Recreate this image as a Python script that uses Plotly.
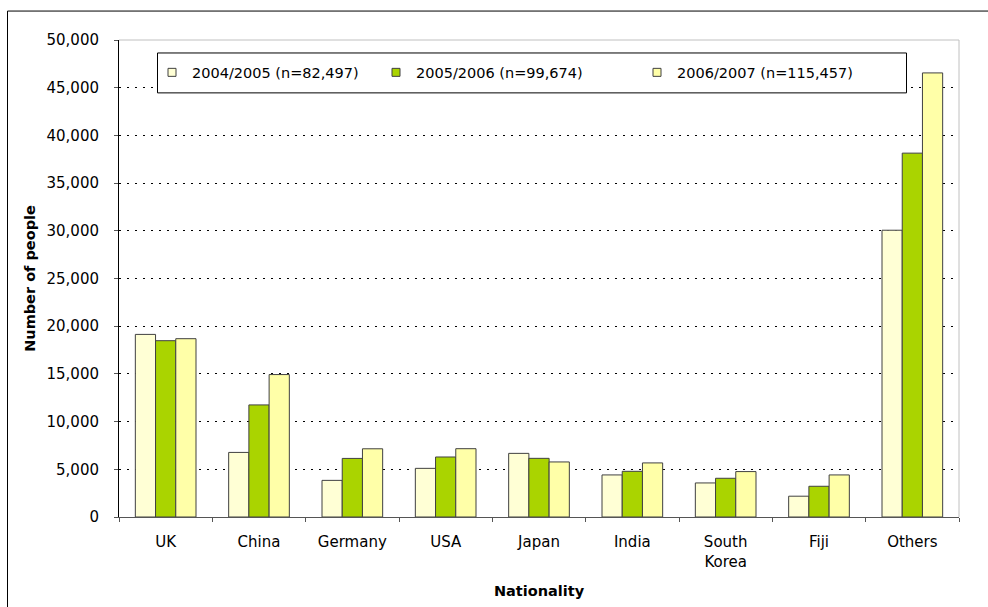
import plotly.graph_objects as go

# Nationality categories and visitor counts per season
categories = ["UK", "China", "Germany", "USA", "Japan", "India", "South<br>Korea", "Fiji", "Others"]
season_names = ["2004/2005 (n=82,497)", "2005/2006 (n=99,674)", "2006/2007 (n=115,457)"]
values_2004 = [19140, 6770, 3840, 5100, 6670, 4410, 3570, 2180, 30060]
values_2005 = [18480, 11750, 6140, 6290, 6150, 4790, 4060, 3220, 38140]
values_2006 = [18690, 14930, 7150, 7160, 5770, 5670, 4760, 4410, 46550]
y_ticks = [0, 5000, 10000, 15000, 20000, 25000, 30000, 35000, 40000, 45000, 50000]

colors = ["#FFFFD5", "#AAD400", "#FFFFA8"]
outline = "#404040"
FONT = "DejaVu Sans"

W, H = 988, 607
L, R, T, B = 119, 959, 39.5, 517.5


def px(x):
    return (x - L) / (R - L)


def py(y):
    return (B - y) / (B - T)


fig = go.Figure()
series = [values_2004, values_2005, values_2006]
for name, vals, col in zip(season_names, series, colors):
    fig.add_trace(go.Bar(
        x=categories, y=vals, name=name, showlegend=False,
        marker=dict(color=col, line=dict(color=outline, width=1)),
    ))

# legend keys: small outlined squares, one legend per season
legend_ids = ["legend", "legend2", "legend3"]
for name, col, lid in zip(season_names, colors, legend_ids):
    fig.add_trace(go.Scatter(
        x=[None], y=[None], mode="markers", name=name, legend=lid,
        marker=dict(symbol="square", size=8, color=col, line=dict(color=outline, width=1)),
    ))

legend_common = dict(
    orientation="h", yanchor="middle", y=py(72), xanchor="left",
    bgcolor="rgba(0,0,0,0)", borderwidth=0, itemsizing="trace",
    font=dict(family=FONT, size=14.5, color="#000"),
)

fig.update_layout(
    width=W, height=H,
    margin=dict(l=L, r=W - R, t=T, b=H - B, autoexpand=False),
    paper_bgcolor="white", plot_bgcolor="white",
    font=dict(family=FONT, size=15, color="#000"),
    barmode="group", bargap=0.35, bargroupgap=0,
    legend=dict(x=px(152), **legend_common),
    legend2=dict(x=px(376), **legend_common),
    legend3=dict(x=px(637), **legend_common),
    xaxis=dict(
        showline=True, linecolor="#555", linewidth=1,
        ticks="outside", ticklen=4, tickcolor="#555", tickson="boundaries",
        showgrid=False, ticklabelstandoff=11, automargin=False,
        title=dict(text="<b>Nationality</b>", font=dict(family=FONT, size=14.5), standoff=16),
    ),
    yaxis=dict(
        range=[0, 50000], tickvals=y_ticks, tickformat=",",
        showline=True, linecolor="#000", linewidth=1,
        ticks="outside", ticklen=4, tickcolor="#555",
        showgrid=True, gridcolor="#000", griddash="2px,6px", gridwidth=1,
        zeroline=False, ticklabelstandoff=12, automargin=False,
        title=dict(text="<b>Number of people</b>", font=dict(family=FONT, size=14.5), standoff=7),
    ),
    shapes=[
        # outer chart frame
        dict(type="rect", xref="paper", yref="paper", x0=px(7.5), x1=px(1000), y0=py(10.5), y1=py(620),
             line=dict(color="#000", width=1), fillcolor="rgba(0,0,0,0)", layer="above"),
        # plot area top and right edges
        dict(type="line", xref="paper", yref="paper", x0=0, x1=1, y0=1, y1=1,
             line=dict(color="#c0c0c0", width=1), layer="above"),
        dict(type="line", xref="paper", yref="paper", x0=1, x1=1, y0=0, y1=1,
             line=dict(color="#c0c0c0", width=1), layer="above"),
        # legend box
        dict(type="rect", xref="paper", yref="paper", x0=px(157.5), x1=px(906.5), y0=py(52.5), y1=py(92.5),
             line=dict(color="#000", width=1), fillcolor="white", layer="above"),
    ],
)

fig.write_html("out.html")
